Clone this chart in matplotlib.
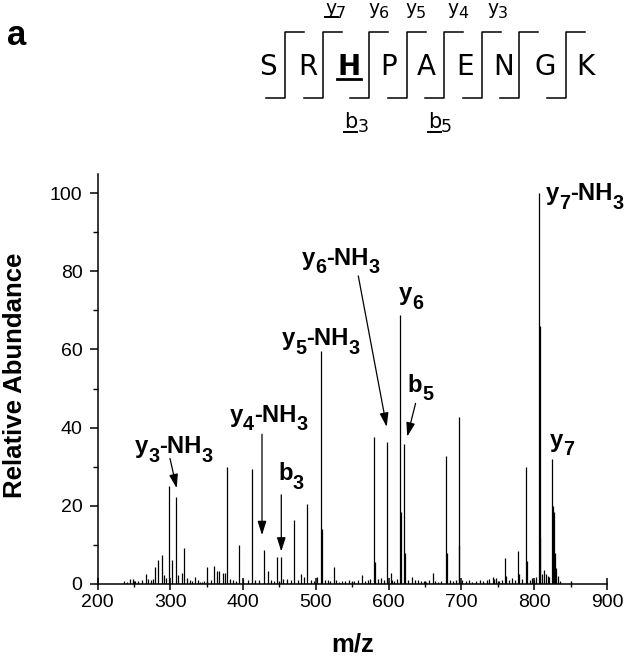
import re
import matplotlib
matplotlib.use("Agg")
import matplotlib.pyplot as plt
from matplotlib.lines import Line2D
from matplotlib.ticker import MultipleLocator
from matplotlib.transforms import offset_copy

plt.rcParams['font.family'] = ['Liberation Sans', 'DejaVu Sans']
plt.rcParams['mathtext.default'] = 'regular'

# ---------------- data ----------------
peak_mz = [
    236.8, 240, 244.6, 248.3, 252, 256, 261.5, 266, 270, 273.5, 275.8, 279.4, 283.5, 288.2,
    291.8, 293.7, 298.6, 302, 307.4, 311, 315.6, 318.8, 322.5, 327, 330, 334, 337.6, 341,
    344, 347, 350.4, 355.5, 360, 363.7, 367.3, 372.8, 375, 378.3, 382, 386.5, 390, 394.8,
    400.3, 406.3, 411.8, 416.3, 422.2, 429, 433.8, 438.3, 442, 447.3, 452.5, 455.2, 460.7,
    465.8, 469.5, 475.8, 479, 484, 487.8, 494, 498, 501.9, 507.4, 508.5, 512, 517, 520,
    524.5, 528, 531.7, 536, 540, 545, 549, 553, 558, 563, 567, 571, 575, 580, 581, 585,
    590, 594, 597.3, 602.7, 605, 608, 611, 615.5, 616.5, 621.4, 622.4, 626, 631.6, 636,
    640, 644, 648, 652, 656, 660.4, 664, 668, 672, 678.7, 679.7, 684, 688, 692, 696, 697,
    701, 706, 710, 715, 720, 725, 730, 735, 738, 742.8, 745, 748, 752, 756, 760, 761, 765,
    770, 774, 778, 779, 783, 788.6, 789.6, 794, 797, 800, 803, 806.5, 807.4, 808.5, 811,
    813.7, 816, 819, 821, 824.7, 825.7, 827, 828.4, 830, 832, 835,
]
peak_int = [
    0.8, 0.6, 1.2, 1.4, 0.7, 0.7, 0.9, 2.6, 1.2, 1.0, 1.2, 4.4, 6.1, 7.4,
    2.3, 1.5, 25.1, 6.1, 22.2, 2.3, 2.7, 9.3, 1.5, 0.9, 0.7, 1.9, 1.0, 0.6,
    0.6, 0.8, 4.3, 1.0, 4.6, 3.2, 3.2, 2.7, 2.7, 30.0, 1.2, 0.9, 0.7, 10.0,
    1.2, 0.9, 29.4, 0.9, 0.9, 8.7, 3.2, 1.0, 0.8, 7.0, 6.8, 1.2, 1.2,
    0.9, 16.4, 0.9, 2.6, 1.9, 20.4, 0.9, 0.7, 1.9, 59.5, 14.0, 1.0, 1.0, 0.7,
    4.3, 1.0, 0.6, 0.8, 0.7, 0.9, 0.6, 0.8, 1.0, 2.2, 0.8, 0.9, 1.3, 37.7, 5.7, 1.2,
    1.5, 0.9, 36.4, 2.7, 1.0, 0.8, 1.2, 68.8, 18.5, 35.8, 8.0, 1.0, 1.8, 0.9,
    1.0, 0.7, 0.8, 0.6, 0.9, 2.9, 0.8, 0.6, 0.8, 32.7, 8.0, 0.9, 0.7, 1.0, 42.8, 10.0,
    0.9, 0.7, 1.0, 0.6, 0.8, 1.0, 0.7, 0.9, 1.2, 1.7, 1.2, 1.5, 0.8, 1.0, 6.6, 2.0, 1.0,
    1.5, 0.9, 8.5, 2.5, 1.2, 30.0, 6.0, 1.0, 1.5, 1.0, 1.8, 100.0, 66.0, 12.0, 2.5,
    3.6, 2.5, 2.0, 1.8, 32.1, 20.0, 18.5, 8.0, 4.0, 2.0, 0.8,
]

# peak annotations ("_x" marks a subscript character), text anchor (m/z, abundance)
ion_labels = ['y_7-NH_3', 'y_6', 'b_5', 'y_6-NH_3', 'y_5-NH_3',
              'y_4-NH_3', 'b_3', 'y_3-NH_3', 'y_7']
ion_text_mz = [816.5, 614.0, 626.5, 480.5, 453.0, 382.0, 448.0, 251.5, 821.6]
ion_text_ab = [98.2, 72.6, 49.2, 81.6, 61.1, 41.5, 26.6, 33.4, 35.1]

# arrows: start (m/z, abundance) -> tip (m/z, abundance)
arrow_start_mz = [299.6, 426.0, 452.5, 558.3, 637.0]
arrow_start_ab = [32.1, 38.3, 22.8, 78.8, 46.2]
arrow_tip_mz = [308.8, 426.0, 452.5, 597.3, 625.5]
arrow_tip_ab = [24.5, 12.5, 8.3, 40.2, 37.7]

x_ticks = [200, 300, 400, 500, 600, 700, 800, 900]
y_ticks = [0, 20, 40, 60, 80, 100]

sequence = ['S', 'R', 'H', 'P', 'A', 'E', 'N', 'G', 'K']
y_ions = ['y_7', 'y_6', 'y_5', 'y_4', 'y_3']
b_ions = ['b_3', 'b_5']

# ---------------- figure ----------------
W, H = 625, 658
fig = plt.figure(figsize=(W / 100, H / 100), dpi=100)
renderer = fig.canvas.get_renderer()
ax = fig.add_axes([97.5 / W, 74 / H, (607 - 97.5) / W, (584 - 173.5) / H])

ax.vlines(peak_mz, 0, peak_int, color='black', lw=0.9)
ax.set_xlim(200, 900)
ax.set_ylim(0, 105)
ax.set_xticks(x_ticks)
ax.set_yticks(y_ticks)
ax.xaxis.set_minor_locator(MultipleLocator(50))
ax.yaxis.set_minor_locator(MultipleLocator(10))
for s in ['top', 'right']:
    ax.spines[s].set_visible(False)
for s in ['left', 'bottom']:
    ax.spines[s].set_linewidth(1.1)
ax.tick_params(axis='x', which='major', direction='inout', length=8.6, width=1.1,
               labelsize=14, pad=3)
ax.tick_params(axis='x', which='minor', direction='inout', length=5, width=1.0)
ax.tick_params(axis='y', which='major', direction='out', length=5.8, width=1.1,
               labelsize=14, pad=5)
ax.tick_params(axis='y', which='minor', direction='out', length=3.6, width=1.0)


def seg_text(label, x, y, trans, size, sub_size, drop, **kw):
    """Draw text with lowered subscripts (marked as _c) piece by piece."""
    parts = re.split(r'_(\w)', label)
    dx = 0.0
    for i, p in enumerate(parts):
        if not p:
            continue
        sub = (i % 2 == 1)
        tr = offset_copy(trans, fig=fig, x=dx, y=(-drop if sub else 0), units='dots')
        t = fig.text(x, y, p, transform=tr, fontsize=sub_size if sub else size,
                     ha='left', va='baseline', **kw)
        dx += t.get_window_extent(renderer).width


for lab, tx, ty in zip(ion_labels, ion_text_mz, ion_text_ab):
    seg_text(lab, tx, ty, ax.transData, 17.2, 14.2, 8.5, fontweight='bold')

for sx, sy, tx, ty in zip(arrow_start_mz, arrow_start_ab, arrow_tip_mz, arrow_tip_ab):
    ax.annotate('', xy=(tx, ty), xytext=(sx, sy),
                arrowprops=dict(arrowstyle='-|>,head_length=0.7,head_width=0.22',
                                lw=0.9, color='black', shrinkA=0, shrinkB=0,
                                mutation_scale=12))

fig.text(15 / W, 1 - 375 / H, 'Relative Abundance', rotation=90, ha='center',
         va='center', fontsize=18.5, fontweight='bold')
fig.text(353 / W, 1 - 651 / H, 'm/z', ha='center', va='baseline', fontsize=18.5,
         fontweight='bold')
fig.text(7 / W, 1 - 45 / H, 'a', ha='left', va='baseline', fontsize=25, fontweight='bold')


# ---------------- sequence diagram ----------------
def fx(px):
    return px / W


def fy(py):
    return 1 - py / H


letter_x = [268.3, 308.3, 349, 388.3, 426.7, 465, 503.3, 545, 585.7]
for ch, lx in zip(sequence, letter_x):
    fig.text(fx(lx), fy(75), ch, ha='center', va='baseline', fontsize=20,
             family='DejaVu Sans', fontweight='bold' if ch == 'H' else 'normal')

sep_x = [285, 322.7, 369.3, 406.7, 444.3, 481.7, 519.3, 566]
top_y, bot_y, arm = 32.3, 97.7, 19
for sx in sep_x:
    fig.add_artist(Line2D([fx(sx - arm), fx(sx), fx(sx), fx(sx + arm)],
                          [fy(bot_y), fy(bot_y), fy(top_y), fy(top_y)],
                          color='black', lw=1.1, transform=fig.transFigure))

y_label_x = [325, 368, 405, 447, 487]
for lab, lx in zip(y_ions, y_label_x):
    seg_text(lab, fx(lx), fy(14.5), fig.transFigure, 13.5, 11.5, 4.0, family='DejaVu Sans')

b_label_x = [344, 427.7]
for lab, lx in zip(b_ions, b_label_x):
    seg_text(lab, fx(lx), fy(128.3), fig.transFigure, 15, 12.5, 4, family='DejaVu Sans')

# underlines
for x0, x1, yy, w in [(325, 338.3, 17, 1.4), (344, 356.7, 131.7, 1.4),
                      (427.7, 440.7, 131.7, 1.4), (337.3, 360.7, 79, 2.0)]:
    fig.add_artist(Line2D([fx(x0), fx(x1)], [fy(yy), fy(yy)], color='black', lw=w,
                          transform=fig.transFigure))

fig.savefig('out.png', dpi=100)
